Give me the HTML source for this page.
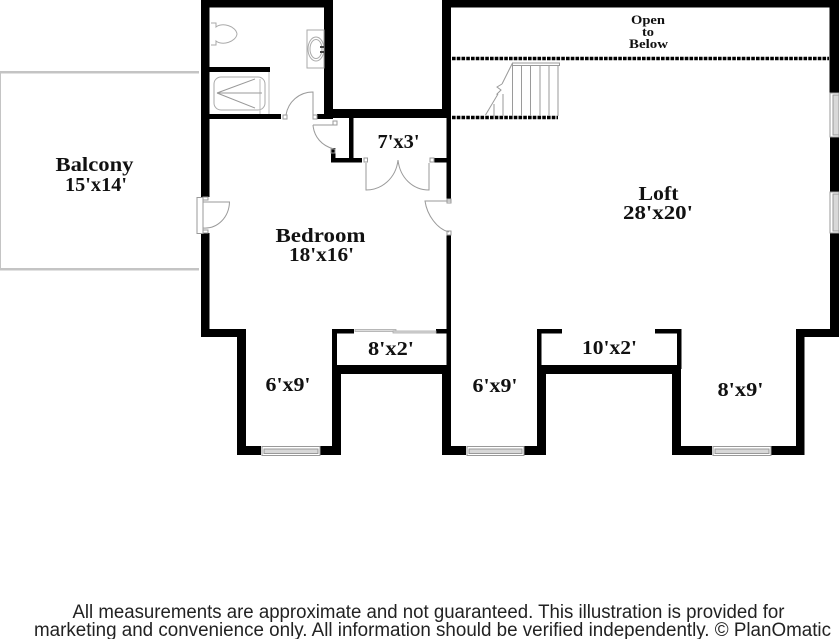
<!DOCTYPE html>
<html><head><meta charset="utf-8"><style>
html,body{margin:0;padding:0;background:#fff;width:839px;height:639px;overflow:hidden}
svg{display:block}
.r{font-family:"Liberation Serif",serif;font-weight:bold;fill:#111;text-anchor:middle}
.f{font-family:"Liberation Sans",sans-serif;font-size:19px;fill:#222;text-anchor:middle}
</style></head><body>
<svg width="839" height="639" viewBox="0 0 839 639" xmlns="http://www.w3.org/2000/svg">
<rect width="839" height="639" fill="#fff"/>
<!-- balcony -->
<g fill="#c4c4c4">
<rect x="0" y="71" width="199" height="2.5"/>
<rect x="0" y="268" width="199" height="2.5"/>
<rect x="0" y="71" width="1" height="199"/>
</g>
<!-- walls -->
<g fill="#000">
<rect x="201" y="0" width="132" height="7.5"/>
<rect x="201" y="0" width="8.5" height="197"/>
<rect x="201" y="233" width="8.5" height="104"/>
<rect x="201" y="329" width="45" height="8"/>
<rect x="237" y="329" width="9" height="126"/>
<rect x="237" y="446" width="24" height="9"/>
<rect x="320" y="446" width="21" height="9"/>
<rect x="332" y="365" width="9" height="90"/>
<rect x="332" y="329" width="5" height="40"/>
<rect x="332" y="329" width="22" height="4.5"/>
<rect x="436" y="329" width="11" height="4.5"/>
<rect x="332" y="365" width="119" height="9"/>
<rect x="324" y="0" width="9" height="118"/>
<rect x="324" y="109" width="127" height="9"/>
<rect x="442" y="0" width="9" height="118"/>
<rect x="442" y="0" width="397" height="7.5"/>
<rect x="446.5" y="118" width="4.5" height="81"/>
<rect x="446.5" y="235" width="4.5" height="135"/>
<rect x="442" y="365" width="9" height="90"/>
<rect x="442" y="446" width="24" height="9"/>
<rect x="523" y="446" width="23" height="9"/>
<rect x="537" y="365" width="9" height="90"/>
<rect x="537" y="329" width="4.5" height="40"/>
<rect x="537" y="329" width="25" height="4.5"/>
<rect x="537" y="365" width="144" height="9"/>
<rect x="655" y="329" width="26" height="4.5"/>
<rect x="677" y="329" width="4.5" height="40"/>
<rect x="672" y="365" width="9" height="90"/>
<rect x="672" y="446" width="40" height="9"/>
<rect x="771" y="446" width="33" height="9"/>
<rect x="796" y="329" width="8.5" height="126"/>
<rect x="796" y="329" width="43" height="8"/>
<rect x="830" y="233" width="9" height="104"/>
<rect x="830" y="137" width="9" height="55"/>
<rect x="829.5" y="0" width="9.5" height="93"/>
<!-- bath inner -->
<rect x="209" y="67" width="61" height="5"/>
<rect x="209" y="114" width="72" height="5"/>
<rect x="317" y="114" width="16" height="5"/>
<!-- closet -->
<rect x="349" y="118" width="4.5" height="44"/>
<rect x="331" y="158" width="31" height="4.5"/>
<rect x="331" y="148" width="4.5" height="14"/>
<rect x="434" y="158" width="13" height="4.5"/>
</g>
<!-- dotted guard rails -->
<line x1="452" y1="58.5" x2="829" y2="58.5" stroke="#000" stroke-width="3.4" stroke-dasharray="3.6 1.15"/>
<line x1="452" y1="117.5" x2="558" y2="117.5" stroke="#000" stroke-width="3.4" stroke-dasharray="3.6 1.15"/>
<!-- stairs -->
<g fill="none" stroke="#9a9a9a" stroke-width="1">
<rect x="512.5" y="63" width="47" height="2.5"/>
<path d="M512.5 63 L502 84 M498 94 L485.5 115"/>
<path d="M502 84 L497 87 L501 90 L497 94 L498 94"/>
<path d="M494 104V116M503 94V116M512.5 65V116M521.5 65V116M530.5 65V116M540 65V116M549 65V116M558 65V116"/>
</g>
<!-- doors -->
<g fill="none" stroke="#9a9a9a" stroke-width="1">
<path d="M313 115V92C299 92 288 102 286 115"/>
<path d="M313 125H333M313 125C314 137 322 146 334 149"/>
<path d="M366 163V190C382 190 396 178 398 160"/>
<path d="M429 163V190C413 190 400 178 398 160"/>
<path d="M451 201H425C427 215 437 229 449 232"/>
<path d="M203 202H229.500C229 217 218 229 203 228"/>
<rect x="197" y="197.500" width="6" height="36"/>
<rect x="283" y="115" width="4" height="4"/>
<rect x="313" y="115" width="4" height="4"/>
<rect x="333" y="121" width="4" height="4"/>
<rect x="331" y="149" width="4" height="4"/>
<rect x="364" y="158" width="3.500" height="4"/>
<rect x="430" y="158" width="4" height="4"/>
<rect x="447" y="199" width="4" height="4"/>
<rect x="447" y="231" width="4" height="4"/>
<rect x="203" y="197" width="5" height="3"/>
<rect x="203" y="230" width="5" height="3"/>
</g>
<!-- sliding door -->
<g fill="#ddd" stroke="#aaa" stroke-width="0.8">
<rect x="355" y="329.500" width="41" height="2"/>
<rect x="393" y="331" width="43" height="2"/>
</g>
<!-- windows -->
<g fill="#d8d8d8" stroke="#999" stroke-width="1">
<rect x="262" y="446.500" width="58" height="9" fill="#fff"/><rect x="264" y="449" width="54" height="4.500"/>
<rect x="467" y="446.500" width="57" height="9" fill="#fff"/><rect x="469" y="449" width="53" height="4.500"/>
<rect x="713" y="446.500" width="58" height="9" fill="#fff"/><rect x="715" y="449" width="54" height="4.500"/>
<rect x="830" y="93" width="9" height="44" fill="#fff"/><rect x="833" y="95" width="6" height="40"/>
<rect x="830" y="192" width="9" height="41" fill="#fff"/><rect x="833" y="194" width="6" height="37"/>
</g>
<!-- toilet -->
<g fill="none" stroke="#aaa" stroke-width="1">
<path d="M211 23H216V27C222 22 236 26 237 34C236 42 222 46 216 41V45H211"/>
<!-- sink -->
<rect x="307" y="30" width="17" height="38"/>
<ellipse cx="316" cy="49" rx="8" ry="12"/>
<ellipse cx="316" cy="49" rx="6" ry="9.500"/>
<!-- shower -->
<rect x="214" y="77" width="51" height="33" rx="7"/>
<path d="M260 79V114" stroke="#bbb"/>
<path d="M217 93L255 79M217 93H262M217 93L255 108" stroke="#999"/>
<path d="M269 72V114" stroke="#bbb"/>
</g>
<rect x="320" y="46" width="4" height="2" fill="#444"/>
<rect x="320" y="51" width="4" height="2" fill="#444"/>
<!-- labels -->
<text class="r" x="94.500" y="171" font-size="20" textLength="78" lengthAdjust="spacingAndGlyphs">Balcony</text>
<text class="r" x="96" y="191" font-size="20" textLength="62" lengthAdjust="spacingAndGlyphs">15'x14'</text>
<text class="r" x="320.500" y="242" font-size="20" textLength="90" lengthAdjust="spacingAndGlyphs">Bedroom</text>
<text class="r" x="321.500" y="261" font-size="20" textLength="65" lengthAdjust="spacingAndGlyphs">18'x16'</text>
<text class="r" x="398.500" y="148" font-size="20" textLength="42" lengthAdjust="spacingAndGlyphs">7'x3'</text>
<text class="r" x="658.500" y="200" font-size="20" textLength="40" lengthAdjust="spacingAndGlyphs">Loft</text>
<text class="r" x="658" y="219" font-size="20" textLength="70" lengthAdjust="spacingAndGlyphs">28'x20'</text>
<text class="r" x="648" y="24" font-size="13" textLength="34" lengthAdjust="spacingAndGlyphs">Open</text>
<text class="r" x="648" y="36" font-size="13" textLength="12" lengthAdjust="spacingAndGlyphs">to</text>
<text class="r" x="648.500" y="48" font-size="13" textLength="39" lengthAdjust="spacingAndGlyphs">Below</text>
<text class="r" x="288" y="391" font-size="20" textLength="45" lengthAdjust="spacingAndGlyphs">6'x9'</text>
<text class="r" x="391" y="355" font-size="20" textLength="46" lengthAdjust="spacingAndGlyphs">8'x2'</text>
<text class="r" x="495" y="392" font-size="20" textLength="45" lengthAdjust="spacingAndGlyphs">6'x9'</text>
<text class="r" x="609.500" y="354" font-size="20" textLength="55" lengthAdjust="spacingAndGlyphs">10'x2'</text>
<text class="r" x="740.500" y="396" font-size="20" textLength="46" lengthAdjust="spacingAndGlyphs">8'x9'</text>
<!-- footer -->
<text class="f" x="428.500" y="618" textLength="712" lengthAdjust="spacingAndGlyphs">All measurements are approximate and not guaranteed. This illustration is provided for</text>
<text class="f" x="432.500" y="636" textLength="797" lengthAdjust="spacingAndGlyphs">marketing and convenience only. All information should be verified independently. © PlanOmatic</text>
</svg>
</body></html>
